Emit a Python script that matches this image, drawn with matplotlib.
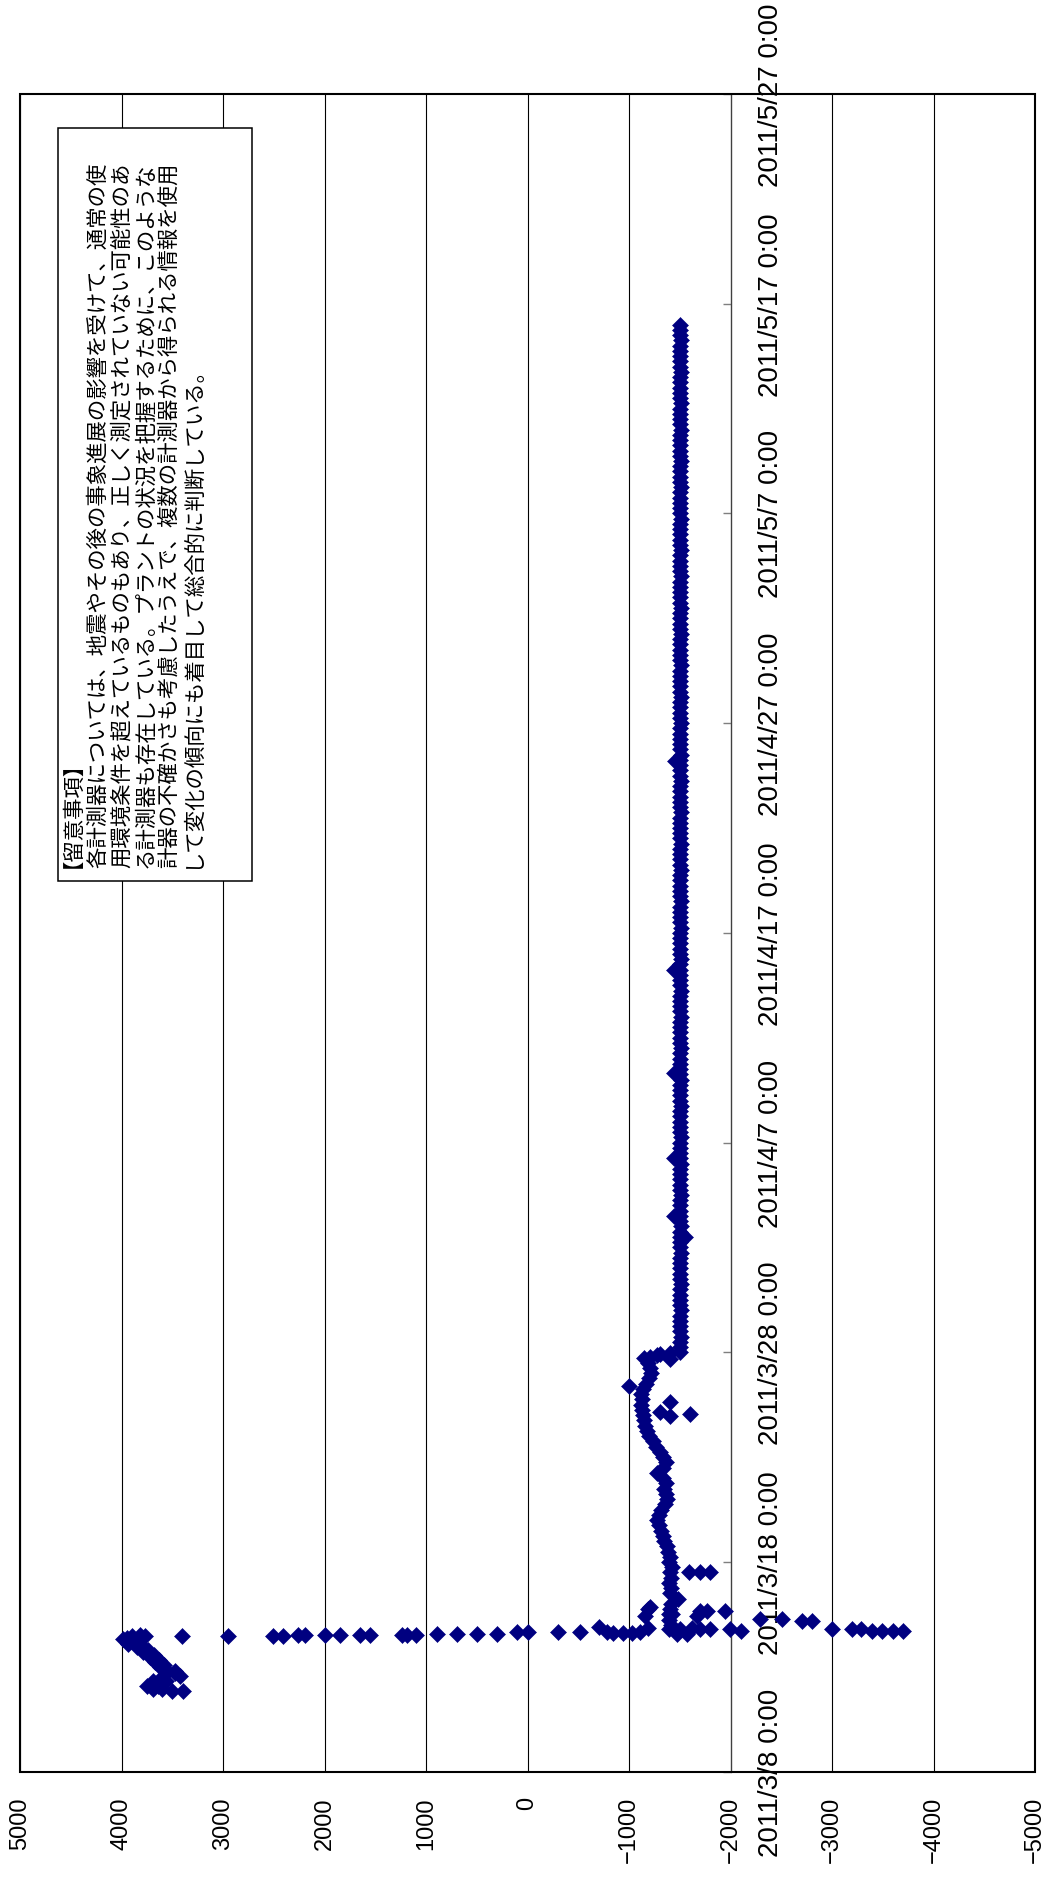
import pandas as pd
import matplotlib
matplotlib.use("Agg")
import matplotlib.pyplot as plt
import matplotlib.dates as mdates
from matplotlib.patches import Rectangle

plt.rcParams['font.family'] = ['Liberation Sans', 'Noto Sans CJK JP', 'DejaVu Sans']

# ---------------------------------------------------------------- readings
# level before the drop (11-14 March)
early_times = [
    '2011-03-11 20:40', '2011-03-11 20:45', '2011-03-11 22:40', '2011-03-11 22:45',
    '2011-03-12 02:20', '2011-03-12 02:30', '2011-03-12 08:10', '2011-03-12 08:20',
    '2011-03-12 13:50', '2011-03-12 13:55', '2011-03-12 16:40', '2011-03-12 19:30',
    '2011-03-12 19:40', '2011-03-12 23:30', '2011-03-13 02:20', '2011-03-13 05:10',
    '2011-03-13 08:00', '2011-03-13 10:55', '2011-03-13 13:45', '2011-03-13 16:35',
    '2011-03-13 19:30', '2011-03-13 22:20', '2011-03-14 01:00', '2011-03-14 02:10',
    '2011-03-14 05:00', '2011-03-14 07:50', '2011-03-14 09:30', '2011-03-14 11:00',
    '2011-03-14 12:30', '2011-03-14 11:10',
]
early_values = [
    3395, 3505, 3605, 3690,
    3755, 3640, 3690, 3560,
    3590, 3425, 3470, 3555,
    3475, 3620, 3580, 3670,
    3630, 3720, 3680, 3785,
    3740, 3850, 3810, 3935,
    3880, 3985, 3950, 3900,
    3820, 3770,
]

# fast drop on 14-15 March
drop_times = [
    '2011-03-14 11:00', '2011-03-14 11:40', '2011-03-14 11:40', '2011-03-14 11:45',
    '2011-03-14 12:00', '2011-03-14 12:00', '2011-03-14 12:45', '2011-03-14 12:45',
    '2011-03-14 12:45', '2011-03-14 12:45', '2011-03-14 13:00', '2011-03-14 13:00',
    '2011-03-14 13:00', '2011-03-14 13:15', '2011-03-14 13:15', '2011-03-14 13:15',
    '2011-03-14 13:15', '2011-03-14 15:30', '2011-03-14 15:30', '2011-03-14 15:30',
    '2011-03-14 15:30', '2011-03-14 22:00', '2011-03-14 15:30', '2011-03-14 14:30',
    '2011-03-14 14:30', '2011-03-14 14:30', '2011-03-14 15:30', '2011-03-14 20:30',
    '2011-03-15 18:00', '2011-03-15 12:30', '2011-03-14 19:00', '2011-03-14 13:40',
    '2011-03-14 13:40', '2011-03-14 19:00', '2011-03-14 20:00', '2011-03-15 16:20',
    '2011-03-15 16:20', '2011-03-14 19:00', '2011-03-14 19:00', '2011-03-15 16:20',
    '2011-03-14 19:00', '2011-03-14 17:20', '2011-03-15 06:40', '2011-03-15 06:40',
    '2011-03-15 04:50', '2011-03-15 04:50', '2011-03-14 19:10', '2011-03-14 19:10',
    '2011-03-14 19:10', '2011-03-14 17:20', '2011-03-14 17:20', '2011-03-14 17:20',
    '2011-03-14 17:20', '2011-03-15 10:30', '2011-03-15 10:30', '2011-03-15 20:00',
]
drop_values = [
    3410, 2950, 2510, 2410,
    2260, 2190, 2000, 1850,
    1650, 1555, 1240, 1190,
    1100, 895, 700, 500,
    300, 100, 0, -300,
    -515, -700, -780, -845,
    -945, -1025, -1110, -1185,
    -1190, -1390, -1390, -1470,
    -1570, -1500, -1620, -1700,
    -1765, -1700, -1800, -1945,
    -1995, -2100, -2290, -2505,
    -2700, -2800, -3000, -3195,
    -3290, -3390, -3490, -3605,
    -3700, -1155, -1665, -1205,
]

# 6-hourly readings, 15 March 00:00 to 27 March 18:00
recovery_start = '2011-03-15 00:00'
recovery_values = [
    -1410, -1395, -1420, -1400, -1410, -1485, -1400, -1415,
    -1395, -1410, -1400, -1420, -1390, -1405, -1380, -1370,
    -1345, -1335, -1315, -1290, -1275, -1295, -1310, -1350,
    -1370, -1360, -1345, -1365, -1330, -1280, -1330, -1360,
    -1335, -1300, -1265, -1235, -1200, -1180, -1160, -1150,
    -1140, -1130, -1120, -1125, -1120, -1140, -1170, -1200,
    -1220, -1210, -1185, -1150,
]

# isolated readings during the recovery and the step of 27 March
extra_times = [
    '2011-03-17 12:15', '2011-03-17 12:15', '2011-03-17 12:15',
    '2011-03-24 23:30', '2011-03-25 01:25', '2011-03-25 03:20', '2011-03-25 15:00',
    '2011-03-26 09:00',
    '2011-03-27 16:00', '2011-03-27 19:00', '2011-03-27 21:00', '2011-03-27 22:00',
    '2011-03-27 23:00',
]
extra_values = [
    -1590, -1700, -1800,
    -1405, -1600, -1305, -1405,
    -995,
    -1400, -1205, -1275, -1305,
    -1400,
]

# 6-hourly readings, 28 March 00:00 to 16 May 00:00
steady_start = '2011-03-28 00:00'
steady_values = [
    -1505, -1500, -1505, -1510, -1505, -1505, -1500, -1505,
    -1510, -1505, -1505, -1500, -1505, -1510, -1505, -1505,
    -1500, -1505, -1505, -1510, -1505, -1500, -1505, -1505,
    -1510, -1505, -1500, -1505, -1505, -1505, -1510, -1505,
    -1500, -1505, -1505, -1505, -1510, -1505, -1500, -1505,
    -1505, -1510, -1505, -1505, -1500, -1505, -1505, -1510,
    -1505, -1500, -1505, -1505, -1510, -1505, -1505, -1500,
    -1505, -1505, -1510, -1505, -1500, -1505, -1505, -1505,
    -1510, -1505, -1500, -1505, -1505, -1510, -1505, -1505,
    -1500, -1505, -1505, -1510, -1505, -1500, -1505, -1505,
    -1505, -1510, -1505, -1500, -1505, -1505, -1510, -1505,
    -1505, -1500, -1505, -1505, -1510, -1505, -1505, -1500,
    -1505, -1510, -1505, -1505, -1500, -1505, -1505, -1510,
    -1505, -1500, -1505, -1505, -1505, -1510, -1505, -1500,
    -1505, -1505, -1510, -1505, -1500, -1505, -1505, -1505,
    -1510, -1505, -1500, -1505, -1505, -1510, -1505, -1505,
    -1500, -1505, -1505, -1510, -1505, -1500, -1505, -1505,
    -1505, -1510, -1505, -1500, -1505, -1505, -1510, -1505,
    -1505, -1500, -1505, -1505, -1510, -1505, -1505, -1500,
    -1505, -1510, -1505, -1505, -1500, -1505, -1505, -1510,
    -1505, -1500, -1505, -1505, -1505, -1510, -1505, -1500,
    -1505, -1505, -1510, -1505, -1500, -1505, -1505, -1505,
    -1510, -1505, -1500, -1505, -1505, -1510, -1505, -1505,
    -1500, -1505, -1505, -1510, -1505, -1500, -1505, -1505,
    -1505, -1510, -1505, -1500, -1505,
]

# short excursions from the steady level
spike_times = [
    '2011-04-02 12:00', '2011-04-03 12:00', '2011-04-06 06:00',
    '2011-04-10 08:00', '2011-04-15 05:00', '2011-04-25 05:00',
]
spike_values = [-1555, -1440, -1440, -1440, -1440, -1450]

# ---------------------------------------------------------------- axes text
date_ticks = pd.date_range('2011-03-08', '2011-05-27', freq='10D')
date_labels = [f'{d.year}/{d.month}/{d.day} 0:00' for d in date_ticks]
value_ticks = list(range(5000, -5001, -1000))
value_labels = [str(v) if v >= 0 else '\u2212' + str(-v) for v in value_ticks]

note_lines = [
    '【留意事項】',
    '各計測器については、地震やその後の事象進展の影響を受けて、通常の使',
    '用環境条件を超えているものもあり、正しく測定されていない可能性のあ',
    'る計測器も存在している。プラントの状況を把握するために、このような',
    '計器の不確かさも考慮したうえで、複数の計測器から得られる情報を使用',
    'して変化の傾向にも着目して総合的に判断している。',
]

# ---------------------------------------------------------------- assemble
recovery_times = pd.date_range(recovery_start, periods=len(recovery_values), freq='6h')
steady_times = pd.date_range(steady_start, periods=len(steady_values), freq='6h')

all_times = (list(pd.to_datetime(early_times)) + list(pd.to_datetime(drop_times))
             + list(recovery_times) + list(pd.to_datetime(extra_times))
             + list(steady_times) + list(pd.to_datetime(spike_times)))
all_values = (early_values + drop_values + recovery_values + extra_values
              + steady_values + spike_values)
all_dnum = mdates.date2num([t.to_pydatetime() for t in all_times])

# ---------------------------------------------------------------- figure
W, H = 1047, 1881
fig = plt.figure(figsize=(W / 100, H / 100), dpi=100)
ax_left, ax_right, ax_top, ax_bottom = 20.2, 1035.0, 95.0, 1772.7
ax = fig.add_axes([ax_left / W, 1 - ax_bottom / H,
                   (ax_right - ax_left) / W, (ax_bottom - ax_top) / H])

navy = '#000080'
# value across the page, time up the page
ax.plot(all_values, all_dnum, ls='none', marker='D', ms=7.8,
        mfc=navy, mec=navy, mew=0.4, zorder=3)

ax.set_xlim(5000, -5000)
ax.set_ylim(mdates.date2num(pd.Timestamp('2011-03-08').to_pydatetime()),
            mdates.date2num(pd.Timestamp('2011-05-27').to_pydatetime()))

ax.set_xticks(value_ticks)
ax.set_xticklabels(value_labels)
ax.xaxis.grid(True, color='black', lw=0.8)
ax.yaxis.grid(False)
ax.set_axisbelow(True)
ax.tick_params(axis='x', length=0, pad=17.5, labelsize=17, labelrotation=90)

# the date axis crosses the value axis at -2000
ax.yaxis.set_ticks_position('right')
ax.spines['right'].set_position(('data', -2000))
ax.spines['right'].set_color('#404040')
ax.spines['right'].set_linewidth(0.9)
ax.set_yticks(mdates.date2num(date_ticks.to_pydatetime()))
ax.set_yticklabels(date_labels)
ax.tick_params(axis='y', direction='in', length=5.8, width=1.0, color='#7f7f7f',
               pad=19.5, labelsize=20, labelrotation=90)
for lbl in ax.get_yticklabels():
    lbl.set_verticalalignment('center')

for side in ('left', 'top', 'bottom'):
    ax.spines[side].set_visible(False)
ax.add_patch(Rectangle((0, 0), 1, 1, transform=ax.transAxes, fill=False,
                       ec='black', lw=1.5, clip_on=False, zorder=5))

# note box
bx0, bx1, by0, by1 = 58, 252, 129, 882
ax.add_patch(Rectangle((bx0 / W, 1 - by1 / H), (bx1 - bx0) / W, (by1 - by0) / H,
                       transform=fig.transFigure, fc='white', ec='black', lw=1.1,
                       clip_on=False, zorder=4))
line_x = [68, 104.4, 127.8, 151.2, 174.6, 198]
for x, line in zip(line_x, note_lines):
    ax.text(x / W, 1 - 868 / H, line, transform=fig.transFigure,
            rotation=90, rotation_mode='anchor', ha='left', va='baseline',
            fontsize=15.4, family=['Noto Sans CJK JP', 'DejaVu Sans'], zorder=6)

fig.savefig('out.png', dpi=100)
